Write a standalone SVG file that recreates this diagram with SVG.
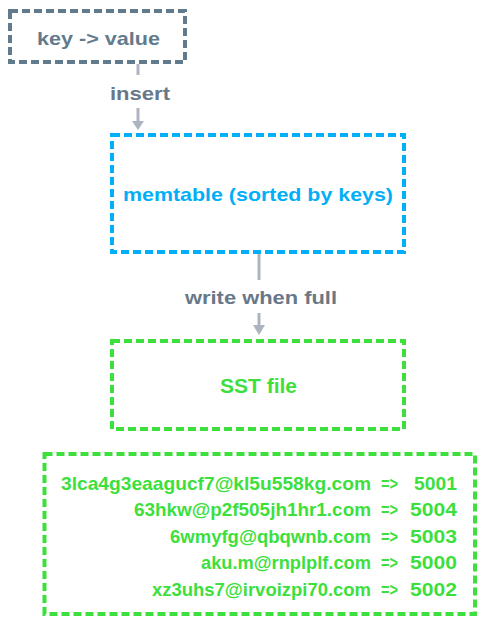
<svg xmlns="http://www.w3.org/2000/svg" width="481" height="620" viewBox="0 0 481 620">
<defs>
<style>
text{font-family:"Liberation Sans","DejaVu Sans",sans-serif;font-weight:bold;}
.box{fill:none;stroke-width:4;stroke-dasharray:8 4;}
.conn{stroke:#adb3bf;stroke-width:3;fill:none;}
.lbl{fill:#687888;font-size:19px;text-anchor:middle;}
.row{fill:#3ddf3d;font-size:19px;}
</style>
</defs>
<rect width="481" height="620" fill="#ffffff"/>
<g id="connectors">
<line class="conn" x1="138" y1="64" x2="138" y2="75"/>
<path class="conn" d="M138,108 L138,122"/>
<path d="M132,121 L144,121 L138,130 Z" fill="#adb3bf"/>
<text class="lbl" x="140" y="100" textLength="60" lengthAdjust="spacingAndGlyphs">insert</text>
<line class="conn" x1="259" y1="254" x2="259" y2="280"/>
<path class="conn" d="M259,313 L259,326"/>
<path d="M253,325 L265,325 L259,335 Z" fill="#adb3bf"/>
<text class="lbl" x="261" y="304" textLength="152" lengthAdjust="spacingAndGlyphs">write when full</text>
</g>
<g id="node-kv">
<rect class="box" x="10" y="11" width="175" height="51" stroke="#617b8d"/>
<text x="98.5" y="45" fill="#617b8d" font-size="19" text-anchor="middle" textLength="123" lengthAdjust="spacingAndGlyphs">key -&gt; value</text>
</g>
<g id="node-memtable">
<rect class="box" x="112" y="135" width="292" height="117" stroke="#03aef9"/>
<text x="258" y="201" fill="#03aef9" font-size="19" text-anchor="middle" textLength="270" lengthAdjust="spacingAndGlyphs">memtable (sorted by keys)</text>
</g>
<g id="node-sst">
<rect class="box" x="112" y="341" width="292" height="88" stroke="#3ddf3d"/>
<text x="258.5" y="393" fill="#3ddf3d" font-size="20" text-anchor="middle" textLength="77" lengthAdjust="spacingAndGlyphs">SST file</text>
</g>
<g id="node-data">
<rect class="box" x="44.5" y="454" width="430.5" height="160" stroke="#3ddf3d"/>
<text class="row" x="371" y="490" text-anchor="end" textLength="310" lengthAdjust="spacingAndGlyphs">3lca4g3eaagucf7@kl5u558kg.com</text>
<text class="row" x="381" y="490" textLength="17" lengthAdjust="spacingAndGlyphs">=&gt;</text>
<text class="row" x="457" y="490" text-anchor="end" textLength="43" lengthAdjust="spacingAndGlyphs">5001</text>
<text class="row" x="371" y="516" text-anchor="end" textLength="237" lengthAdjust="spacingAndGlyphs">63hkw@p2f505jh1hr1.com</text>
<text class="row" x="381" y="516" textLength="17" lengthAdjust="spacingAndGlyphs">=&gt;</text>
<text class="row" x="457" y="516" text-anchor="end" textLength="47" lengthAdjust="spacingAndGlyphs">5004</text>
<text class="row" x="371" y="543" text-anchor="end" textLength="201" lengthAdjust="spacingAndGlyphs">6wmyfg@qbqwnb.com</text>
<text class="row" x="381" y="543" textLength="17" lengthAdjust="spacingAndGlyphs">=&gt;</text>
<text class="row" x="457" y="543" text-anchor="end" textLength="47" lengthAdjust="spacingAndGlyphs">5003</text>
<text class="row" x="371" y="569" text-anchor="end" textLength="170" lengthAdjust="spacingAndGlyphs">aku.m@rnplplf.com</text>
<text class="row" x="381" y="569" textLength="17" lengthAdjust="spacingAndGlyphs">=&gt;</text>
<text class="row" x="457" y="569" text-anchor="end" textLength="47" lengthAdjust="spacingAndGlyphs">5000</text>
<text class="row" x="371" y="596" text-anchor="end" textLength="219" lengthAdjust="spacingAndGlyphs">xz3uhs7@irvoizpi70.com</text>
<text class="row" x="381" y="596" textLength="17" lengthAdjust="spacingAndGlyphs">=&gt;</text>
<text class="row" x="457" y="596" text-anchor="end" textLength="47" lengthAdjust="spacingAndGlyphs">5002</text>
</g>
</svg>
